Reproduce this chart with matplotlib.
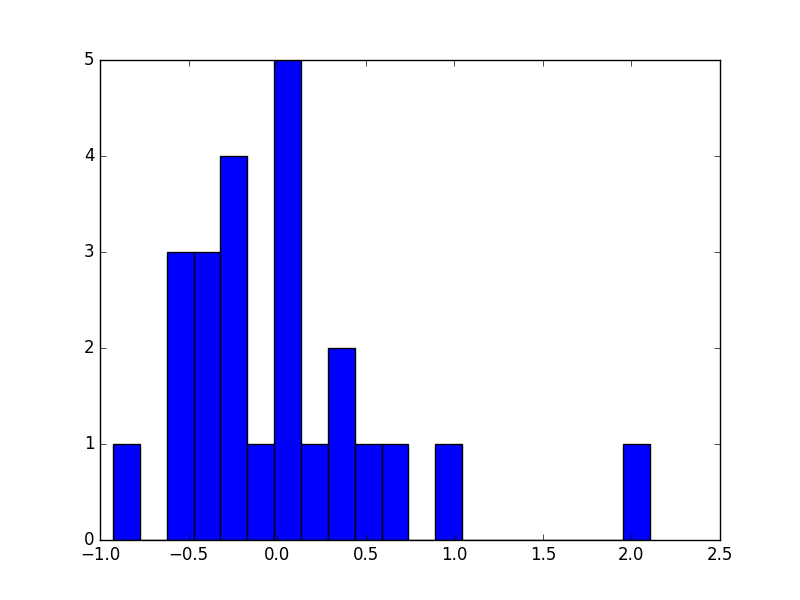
import numpy as np
from matplotlib import pyplot as plt

plt.style.use('classic')

# histogram: 20 bins
x_min = -0.927
x_max = 2.106
n_bins = 20
counts = [1, 0, 3, 3, 4, 1, 5, 1, 2, 1, 1, 0, 1, 0, 0, 0, 0, 0, 0, 1]

edges = np.linspace(x_min, x_max, n_bins + 1)
centres = (edges[:-1] + edges[1:]) / 2

fig, ax = plt.subplots(figsize=(8, 6), dpi=100)
ax.hist(centres, bins=edges, weights=counts, color='b', edgecolor='k')
ax.set_xlim(-1.0, 2.5)
ax.set_ylim(0, 5)

fig.savefig('out.png', dpi=100)
